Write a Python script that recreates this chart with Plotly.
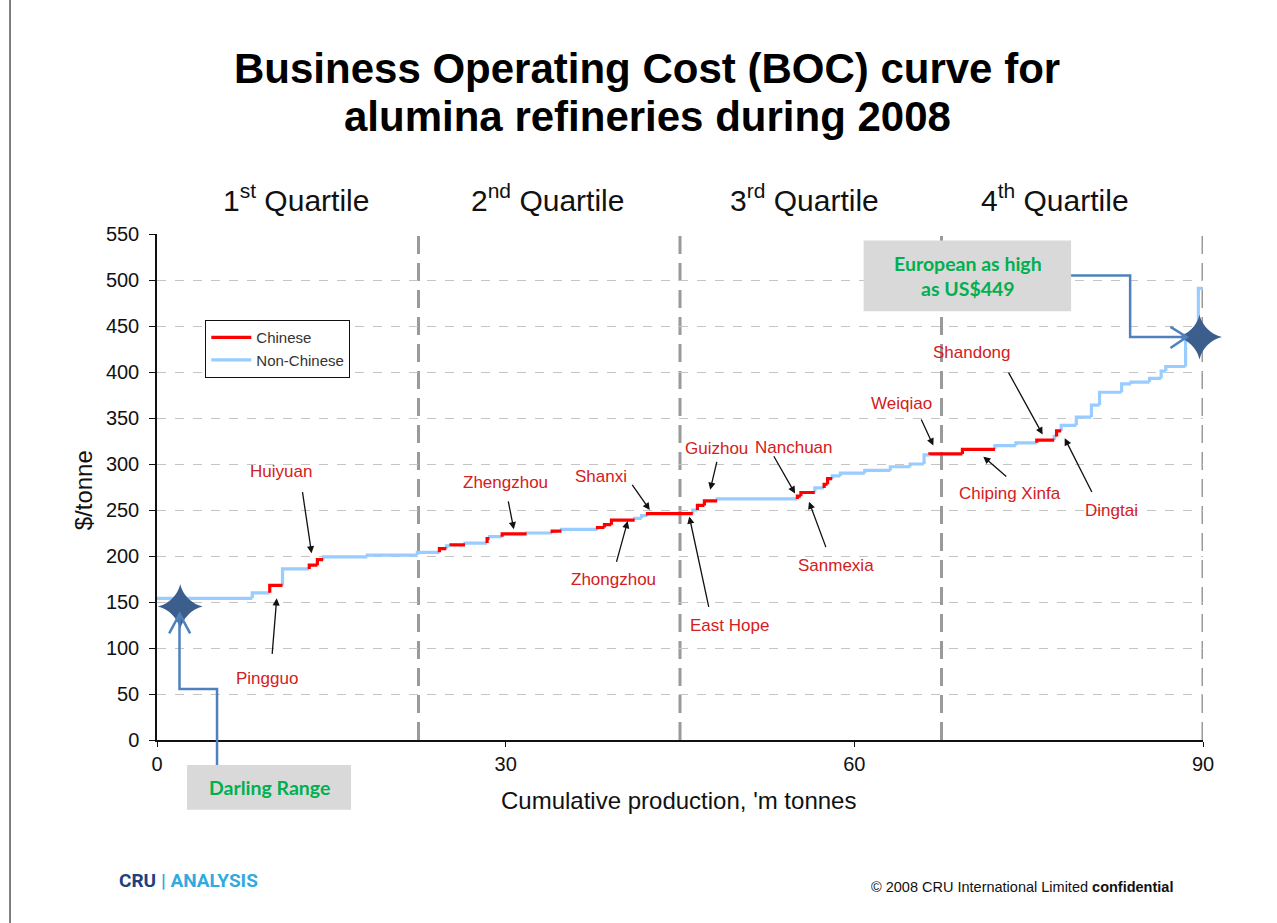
import plotly.graph_objects as go

# refinery steps: cumulative output at right edge ('m t), BOC ($/t), Chinese?
cum_output = [8.2, 9.7, 10.8, 13.1, 13.8, 14.3, 18.1, 22.4, 24.3, 24.9,
              25.3, 26.5, 28.4, 28.6, 29.7, 31.8, 34.0, 34.8, 37.9, 38.5,
              39.1, 41.1, 41.7, 42.2, 46.1, 46.5, 47.1, 48.2, 55.1, 55.4,
              56.6, 57.4, 57.7, 58.1, 58.8, 60.9, 63.1, 64.8, 66.0, 66.5,
              69.3, 72.1, 73.9, 75.7, 77.2, 77.4, 77.8, 79.1, 80.4, 81.1,
              83.0, 83.8, 85.4, 86.4, 86.8, 88.5, 89.6, 90.0]
boc = [154, 160, 168, 186, 190, 196, 199, 201, 204, 208,
       211, 212, 214, 219, 221, 224, 225, 227, 229, 231,
       234, 239, 241, 244, 246, 250, 255, 260, 262, 265,
       269, 274, 278, 284, 287, 290, 293, 297, 300, 310,
       311, 316, 320, 323, 326, 330, 336, 342, 351, 364,
       378, 387, 389, 393, 401, 406, 440, 491]
chinese = [0, 0, 1, 0, 1, 1, 0, 0, 0, 1,
           0, 1, 0, 1, 0, 1, 0, 1, 0, 1,
           1, 1, 0, 0, 1, 0, 1, 1, 0, 1,
           1, 0, 1, 1, 0, 0, 0, 0, 0, 0,
           1, 1, 0, 0, 1, 0, 1, 0, 0, 0,
           0, 0, 0, 0, 0, 0, 0, 0]

quartiles = [22.5, 45.0, 67.5, 90.0]
quartile_names = ["1<sup>st</sup> Quartile", "2<sup>nd</sup> Quartile",
                  "3<sup>rd</sup> Quartile", "4<sup>th</sup> Quartile"]
quartile_label_x = [12.0, 33.6, 55.7, 77.3]

darling_point = (2.0, 145)
european_point = (89.7, 438)

# label, label position, arrow tail, arrow head (data units)
refinery_labels = [
    ("Huiyuan", 10.7, 292, 12.5, 271, 13.3, 203),
    ("Pingguo", 9.5, 67, 9.9, 92, 10.3, 154),
    ("Zhengzhou", 30.0, 280, 30.2, 261, 30.7, 229),
    ("Shanxi", 38.2, 286, 40.8, 279, 42.4, 250),
    ("Zhongzhou", 39.3, 174, 39.5, 192, 40.5, 238),
    ("Guizhou", 48.1, 317, 48.2, 304, 47.6, 272),
    ("East Hope", 49.3, 124, 47.5, 143, 45.8, 243),
    ("Nanchuan", 54.8, 318, 53.0, 310, 54.9, 268),
    ("Sanmexia", 58.4, 190, 57.6, 208, 56.1, 259),
    ("Weiqiao", 64.1, 366, 65.7, 350, 66.8, 320),
    ("Shandong", 70.1, 421, 73.2, 401, 76.2, 332),
    ("Chiping Xinfa", 73.4, 268, 73.2, 285, 71.1, 308),
    ("Dingtai", 82.1, 249, 80.5, 268, 78.1, 328),
]

FONT = "Liberation Sans, Arial, sans-serif"
RED = "#FF0000"
LIGHT_BLUE = "#99CCFF"
CALLOUT = "#4F81BD"
STAR = "#3B5E8C"
GREEN = "#00B050"


def step_coords(flag):
    xs, ys = [], []
    x_prev, y_prev = 0.0, None
    for x_end, y, c in zip(cum_output, boc, chinese):
        if c == flag:
            if y_prev is None:
                xs += [x_prev, x_end, None]
                ys += [y, y, None]
            else:
                xs += [x_prev, x_prev, x_end, None]
                ys += [y_prev, y, y, None]
        x_prev, y_prev = x_end, y
    return xs, ys


fig = go.Figure()
for name, flag, color in [("Non-Chinese", 0, LIGHT_BLUE), ("Chinese", 1, RED)]:
    xs, ys = step_coords(flag)
    fig.add_trace(go.Scatter(x=xs, y=ys, mode="lines", name=name,
                             line=dict(color=color, width=3.2),
                             connectgaps=False, hoverinfo="skip"))

shapes = []
for q in quartiles:
    shapes.append(dict(type="line", xref="x", yref="y", x0=q, x1=q, y0=0, y1=550,
                       line=dict(color="#9A9A9A", width=3, dash="18px,9px"),
                       layer="below"))

# European callout box + connector
shapes.append(dict(type="rect", xref="x", yref="y", x0=60.8, x1=78.65, y0=466, y1=543,
                   fillcolor="#D9D9D9", line=dict(width=0), layer="above"))
shapes.append(dict(type="path", xref="x", yref="y",
                   path=f"M 78.65,505 L 83.73,505 L 83.73,{european_point[1]} L 88.6,{european_point[1]}",
                   line=dict(color=CALLOUT, width=2.5)))
shapes.append(dict(type="path", xref="x", yref="y",
                   path=f"M 87.2,449 L 88.6,{european_point[1]} L 87.2,426",
                   line=dict(color=CALLOUT, width=2.5)))

# Darling Range callout box + connector (below the axis, paper coords)
shapes.append(dict(type="rect", xref="paper", yref="paper", x0=0.0287, x1=0.1855,
                   y0=-0.138, y1=-0.0494, fillcolor="#D9D9D9", line=dict(width=0)))
shapes.append(dict(type="path", xref="paper", yref="paper",
                   path="M 0.0574,-0.0494 L 0.0574,0.1008 L 0.0215,0.1008 L 0.0215,0.25",
                   line=dict(color=CALLOUT, width=2.5)))
shapes.append(dict(type="path", xref="x", yref="y",
                   path="M 1.05,116 L 1.95,137 L 2.85,116",
                   line=dict(color=CALLOUT, width=2.5)))

# slide border on the left
shapes.append(dict(type="line", xref="paper", yref="paper", x0=-0.1405, x1=-0.1405,
                   y0=-0.38, y1=1.47, line=dict(color="#555555", width=1.5)))

fig.add_trace(go.Scatter(
    x=[darling_point[0], european_point[0]],
    y=[darling_point[1], european_point[1]],
    mode="markers", showlegend=False, cliponaxis=False, hoverinfo="skip",
    marker=dict(symbol="star-diamond", size=32, color=STAR,
                line=dict(width=0)),
))

annotations = []
for name, lx, ly, tx, ty, hx, hy in refinery_labels:
    annotations.append(dict(x=hx, y=hy, ax=tx, ay=ty, axref="x", ayref="y",
                            xref="x", yref="y", text="", showarrow=True,
                            arrowhead=2, arrowsize=1.1, arrowwidth=1.3,
                            arrowcolor="#111111"))
    annotations.append(dict(x=lx, y=ly, xref="x", yref="y", text=name,
                            xanchor="center", yanchor="middle", showarrow=False,
                            font=dict(family=FONT, size=17, color="#D42020")))

for lx, qname in zip(quartile_label_x, quartile_names):
    annotations.append(dict(x=lx / 90, y=1.071, xref="paper", yref="paper",
                            xanchor="center", yanchor="middle",
                            text=qname, showarrow=False,
                            font=dict(family=FONT, size=30, color="#111111")))

title_lines = ["Business Operating Cost (BOC) curve for", "alumina refineries during 2008"]
for line, ty in zip(title_lines, [1.3280, 1.2330]):
    annotations.append(dict(x=0.4685, y=ty, xref="paper", yref="paper", showarrow=False,
                            xanchor="center", yanchor="middle", text=f"<b>{line}</b>",
                            font=dict(family=FONT, size=42, color="#000000")))

annotations += [
    dict(x=-0.0705, y=0.494, xref="paper", yref="paper", showarrow=False, textangle=-90,
         xanchor="center", yanchor="middle",
         text="$/tonne", font=dict(family=FONT, size=24, color="#111111")),
    dict(x=0.499, y=-0.1186, xref="paper", yref="paper", showarrow=False,
         xanchor="center", yanchor="middle",
         text="Cumulative production, 'm tonnes", font=dict(family=FONT, size=24, color="#111111")),
    dict(x=69.75, y=504.5, xref="x", yref="y", showarrow=False, align="center",
         xanchor="center", yanchor="middle",
         text="<b>European as high<br>as US$449</b>",
         font=dict(family="Lato, sans-serif", size=19.5, color=GREEN)),
    dict(x=0.1071, y=-0.0935, xref="paper", yref="paper", showarrow=False,
         xanchor="center", yanchor="middle",
         text="<b>Darling Range</b>", font=dict(family="Lato, sans-serif", size=19.5, color=GREEN)),
    dict(x=-0.0382, y=-0.2767, xref="paper", yref="paper", showarrow=False,
         xanchor="left", yanchor="middle",
         text="<b><span style='color:#1F3F7F'>CRU</span> <span style='color:#33AADD'>| ANALYSIS</span></b>",
         font=dict(family="Liberation Sans Narrow, Roboto, sans-serif", size=19)),
    dict(x=0.9732, y=-0.2905, xref="paper", yref="paper", showarrow=False,
         xanchor="right", yanchor="middle",
         text="© 2008 CRU International Limited <b>confidential</b>",
         font=dict(family="Liberation Sans Narrow, Liberation Sans, sans-serif", size=14.5, color="#111111")),
]

fig.update_layout(
    width=1277, height=923,
    margin=dict(l=157, r=74, t=234, b=183),
    paper_bgcolor="white", plot_bgcolor="white",
    font=dict(family=FONT, color="#111111"),
    showlegend=True,
    legend=dict(x=0.046, y=0.83, xanchor="left", yanchor="top",
                bgcolor="white", bordercolor="#111111", borderwidth=1.2,
                font=dict(family=FONT, size=15, color="#333333"),
                traceorder="reversed", itemwidth=40),
    xaxis=dict(range=[0, 90], tickvals=[0, 30, 60, 90], showgrid=False, zeroline=False,
               showline=True, linecolor="#111111", linewidth=1.5,
               ticks="outside", ticklen=5, tickcolor="#111111",
               tickfont=dict(family=FONT, size=20, color="#111111")),
    yaxis=dict(range=[0, 550], dtick=50, showgrid=True, gridcolor="#C4C4C4",
               griddash="dash", gridwidth=1, zeroline=False,
               showline=True, linecolor="#111111", linewidth=1.5,
               ticks="outside", ticklen=6, tickcolor="#111111", ticklabelstandoff=6,
               tickfont=dict(family=FONT, size=20, color="#111111")),
    shapes=shapes,
    annotations=annotations,
)

fig.write_html("out.html", config={"displayModeBar": False},
               post_script="document.body.style.margin='0';")
